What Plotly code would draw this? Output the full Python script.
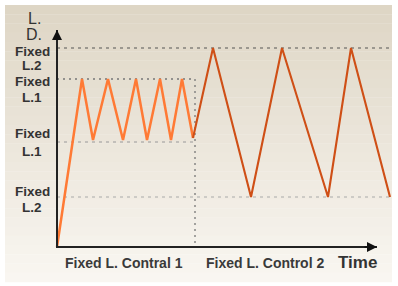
import plotly.graph_objects as go

# ---- data (time units / level units) ----
levels = {"L2_high": 199, "L1_high": 168, "L1_low": 105, "L2_low": 50}

t_phase1 = [0, 25, 36, 51, 66, 79, 90, 103, 114, 125, 136]
v_phase1 = [0, 168, 107, 168, 107, 168, 107, 168, 107, 168, 109]

t_phase2 = [136, 156, 194, 225, 271, 294, 333]
v_phase2 = [109, 199, 50, 199, 50, 199, 50]

phase_boundary = 138
t_end = 335
x_axis_end = 320
y_axis_end = 217

y_label_lines = ["Fixed", "L.2", "Fixed", "L.1", "Fixed", "L.1", "Fixed", "L.2"]
y_label_pos = [196, 182, 166, 150, 114, 96, 56, 40]
y_title_lines = ["L.", "D."]
y_title_pos = [229, 213]
x_labels = ["Fixed L. Contral 1", "Fixed L. Control 2"]
x_label_pos = [67, 208]

W, H = 398, 286
X0, Y0 = 57, 247  # pixel origin

fig = go.Figure()

# gradient panel background
top = (222, 214, 197)
bot = (249, 246, 241)
n = 30
py_top, py_bot = 5, 282
for i in range(n):
    f = i / (n - 1)
    c = tuple(round(top[k] + (bot[k] - top[k]) * f) for k in range(3))
    y1 = py_top + (py_bot - py_top) * i / n
    y2 = py_top + (py_bot - py_top) * (i + 1) / n
    fig.add_shape(type="rect", xref="paper", yref="paper",
                  x0=5 / W, x1=392 / W, y0=1 - y2 / H - 0.001, y1=1 - y1 / H,
                  fillcolor="rgb(%d,%d,%d)" % c, line_width=0, layer="below")

# reference lines
fig.add_trace(go.Scatter(x=[0, t_end], y=[levels["L2_high"]] * 2, mode="lines",
                         line=dict(color="#555", width=1.2, dash="3px,4px"), hoverinfo="skip"))
fig.add_trace(go.Scatter(x=[0, phase_boundary, phase_boundary], y=[levels["L1_high"], levels["L1_high"], 0],
                         mode="lines", line=dict(color="#777", width=1.3, dash="2px,4px"), hoverinfo="skip"))
fig.add_trace(go.Scatter(x=[0, phase_boundary], y=[levels["L1_low"]] * 2, mode="lines",
                         line=dict(color="#999", width=1.2, dash="3px,4px"), hoverinfo="skip"))
fig.add_trace(go.Scatter(x=[0, t_end], y=[levels["L2_low"]] * 2, mode="lines",
                         line=dict(color="#aaa", width=1.2, dash="3px,4px"), hoverinfo="skip"))

# signal lines
fig.add_trace(go.Scatter(x=t_phase1, y=v_phase1, mode="lines",
                         line=dict(color="#FF7A35", width=2.5), hoverinfo="skip"))
fig.add_trace(go.Scatter(x=t_phase2, y=v_phase2, mode="lines",
                         line=dict(color="#CF4F16", width=2.1), hoverinfo="skip"))

# axes with arrows
fig.add_trace(go.Scatter(x=[0, 0, x_axis_end], y=[y_axis_end, 0, 0], mode="lines",
                         line=dict(color="#222", width=2), hoverinfo="skip"))
fig.add_annotation(x=0, y=y_axis_end, ax=0, ay=y_axis_end - 10, xref="x", yref="y",
                   axref="x", ayref="y", showarrow=True, arrowhead=2, arrowsize=1,
                   arrowwidth=2, arrowcolor="#111", text="")
fig.add_annotation(x=x_axis_end, y=0, ax=x_axis_end - 14, ay=0, xref="x", yref="y",
                   axref="x", ayref="y", showarrow=True, arrowhead=2, arrowsize=1,
                   arrowwidth=2, arrowcolor="#111", text="")

font = dict(family="Liberation Sans, Arial, sans-serif", size=14, color="#333")

for txt, yv in zip(y_label_lines, y_label_pos):
    fig.add_annotation(x=-25, y=yv, text="<b>" + txt + "</b>", showarrow=False,
                       xref="x", yref="y", font=dict(font, size=13.5), align="center",
                       borderpad=0)
for txt, yv in zip(y_title_lines, y_title_pos):
    fig.add_annotation(x=-23, y=yv, text=txt, showarrow=False, xref="x", yref="y",
                       font=dict(font, size=16), align="center", borderpad=0)

for txt, xv in zip(x_labels, x_label_pos):
    fig.add_annotation(x=xv, y=-16, text="<b>" + txt + "</b>", showarrow=False,
                       xref="x", yref="y", font=dict(font, size=14, color="#3a3a3a"))
fig.add_annotation(x=300, y=-15, text="<b>Time</b>", showarrow=False, xref="x", yref="y",
                   font=dict(font, size=17))

fig.update_layout(
    width=W, height=H, margin=dict(l=0, r=0, t=0, b=0),
    paper_bgcolor="white", plot_bgcolor="rgba(0,0,0,0)", showlegend=False,
    xaxis=dict(range=[-X0, W - X0], showgrid=False, zeroline=False, showticklabels=False,
               showline=False, fixedrange=True),
    yaxis=dict(range=[Y0 - H, Y0], showgrid=False, zeroline=False, showticklabels=False,
               showline=False, fixedrange=True),
)

fig.write_html("out.html", config={"displayModeBar": False, "staticPlot": True},
               post_script="document.body.style.margin='0';document.body.style.overflow='hidden';")
